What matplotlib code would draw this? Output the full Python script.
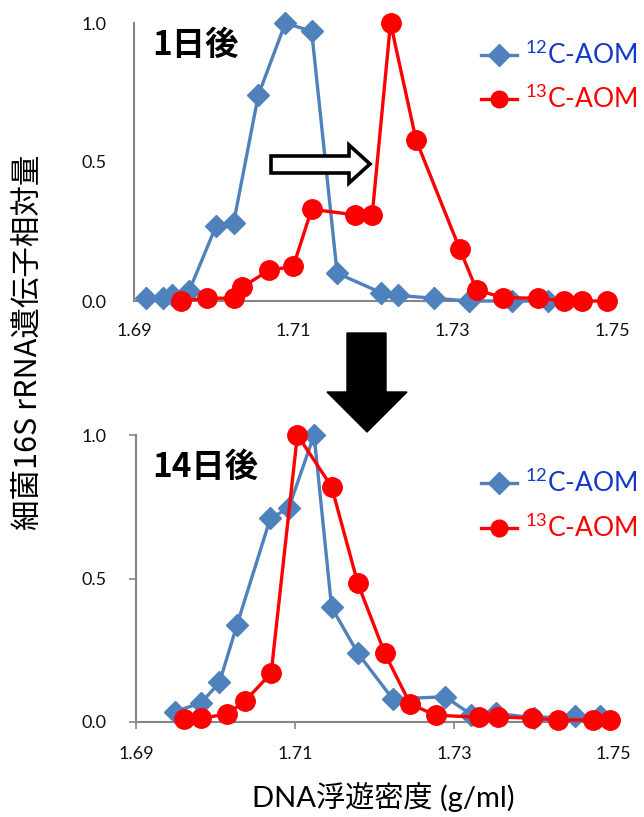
import matplotlib
matplotlib.use("Agg")
import matplotlib.pyplot as plt
from matplotlib.patches import Polygon
from matplotlib.lines import Line2D

plt.rcParams['font.family'] = ['Lato', 'Noto Sans CJK JP', 'DejaVu Sans']
plt.rcParams['mathtext.default'] = 'regular'

# ---------------- data ----------------
top_12_x = [1.6915, 1.6937, 1.6948, 1.6969, 1.7003, 1.7025, 1.7056, 1.7090, 1.7123, 1.7155,
            1.7210, 1.7232, 1.7276, 1.7320, 1.7374, 1.7420]
top_12_y = [0.01, 0.01, 0.02, 0.035, 0.27, 0.28, 0.74, 1.0, 0.97, 0.10,
            0.03, 0.02, 0.01, 0.0, 0.0, 0.0]
top_13_x = [1.6959, 1.6992, 1.7025, 1.7036, 1.7069, 1.7100, 1.7123, 1.7177, 1.7199, 1.7222,
            1.7254, 1.7309, 1.7330, 1.7363, 1.7407, 1.7440, 1.7462, 1.7494]
top_13_y = [0.0, 0.01, 0.01, 0.05, 0.11, 0.125, 0.33, 0.31, 0.31, 1.0,
            0.58, 0.186, 0.04, 0.012, 0.01, 0.0, 0.0, 0.0]

bot_12_x = [1.6949, 1.6982, 1.7005, 1.7027, 1.7069, 1.7092, 1.7124, 1.7146, 1.7179, 1.7223,
            1.7289, 1.7322, 1.7353, 1.7400, 1.7452, 1.7484]
bot_12_y = [0.036, 0.067, 0.138, 0.338, 0.71, 0.745, 1.0, 0.40, 0.24, 0.08,
            0.088, 0.025, 0.03, 0.015, 0.02, 0.02]
bot_13_x = [1.6960, 1.6982, 1.7015, 1.7037, 1.7070, 1.7103, 1.7146, 1.7179, 1.7213, 1.7245,
            1.7277, 1.7332, 1.7355, 1.7398, 1.7431, 1.7475, 1.7496]
bot_13_y = [0.01, 0.013, 0.028, 0.073, 0.17, 1.0, 0.82, 0.483, 0.239, 0.062,
            0.024, 0.016, 0.018, 0.013, 0.007, 0.007, 0.007]

x_ticks = [1.69, 1.71, 1.73, 1.75]
x_tick_labels = ['1.69', '1.71', '1.73', '1.75']
y_ticks = [0.0, 0.5, 1.0]
y_tick_labels = ['0.0', '0.5', '1.0']

series_labels = ['$^{12}$C-AOM', '$^{13}$C-AOM']
panel_titles = ['1日後', '14日後']
x_label = 'DNA浮遊密度 (g/ml)'
y_label = '細菌16S rRNA遺伝子相対量'

# ---------------- style ----------------
W, H = 644, 817
BLUE = '#4f81bd'
RED = '#ff0000'
BLUE_TXT = '#1438c8'
AXIS_GRAY = '#868686'

fig = plt.figure(figsize=(W / 100, H / 100), dpi=100)


def fx(px):
    return px / W


def fy(py):
    return 1 - py / H


def make_ax(left, right, top, bottom, xs12, ys12, xs13, ys13, ticks_on, title, title_xy, leg_y):
    ax = fig.add_axes([fx(left), fy(bottom), fx(right) - fx(left), fy(top) - fy(bottom)])
    ax.plot(xs12, ys12, color=BLUE, lw=2.4, marker='D', ms=11.5, mec=BLUE, mfc=BLUE,
            clip_on=False, zorder=3)
    ax.plot(xs13, ys13, color=RED, lw=2.4, marker='o', ms=14, mec=RED, mfc=RED,
            clip_on=False, zorder=4)
    ax.set_xlim(1.69, 1.75)
    ax.set_ylim(0, 1)
    ax.set_xticks(x_ticks)
    ax.set_xticklabels(x_tick_labels)
    ax.set_yticks(y_ticks)
    ax.set_yticklabels(y_tick_labels)
    for s in ['top', 'right']:
        ax.spines[s].set_visible(False)
    for s in ['left', 'bottom']:
        ax.spines[s].set_color(AXIS_GRAY)
        ax.spines[s].set_linewidth(1.5)
    tl = 5 if ticks_on else 0
    ax.tick_params(axis='both', direction='out', length=tl, width=1.2, color=AXIS_GRAY,
                   labelsize=13, labelcolor='#111111')
    ax.tick_params(axis='x', pad=16 - tl * 0.7)
    ax.tick_params(axis='y', pad=20 - tl * 0.7)
    ax.patch.set_alpha(0)
    # panel title
    fig.text(fx(title_xy[0]), fy(title_xy[1]), title, fontsize=24, fontweight='bold',
             family=['Noto Sans CJK JP'], ha='left', va='center')
    # legend
    for i, (col, mk, ms, tcol) in enumerate([(BLUE, 'D', 11, BLUE_TXT), (RED, 'o', 12, RED)]):
        yy = leg_y[i]
        fig.add_artist(Line2D([fx(481), fx(517)], [fy(yy), fy(yy)], color=col, lw=2.4,
                              transform=fig.transFigure))
        fig.add_artist(Line2D([fx(499)], [fy(yy)], color=col, marker=mk, ms=ms,
                              mfc=col, mec=col, transform=fig.transFigure))
        fig.text(fx(525), fy(yy), series_labels[i], fontsize=19, color=tcol,
                 ha='left', va='center')
    return ax


ax1 = make_ax(134, 612, 23, 301, top_12_x, top_12_y, top_13_x, top_13_y, False,
              panel_titles[0], (152, 45), (55, 99))
ax2 = make_ax(136, 613, 435, 722, bot_12_x, bot_12_y, bot_13_x, bot_13_y, True,
              panel_titles[1], (152, 467), (483, 528))

# open arrow (top panel)
open_arrow = [(271, 156), (349, 156), (349, 145), (370, 164), (349, 183), (349, 173), (271, 173)]
fig.add_artist(Polygon([(fx(a), fy(b)) for a, b in open_arrow], closed=True,
                       facecolor='white', edgecolor='black', lw=2.6,
                       transform=fig.transFigure, zorder=10))

# big down arrow
down_arrow = [(347, 333), (386, 333), (386, 392), (407, 392), (367, 432), (327, 392), (347, 392)]
fig.add_artist(Polygon([(fx(a), fy(b)) for a, b in down_arrow], closed=True,
                       facecolor='black', edgecolor='black', lw=1,
                       transform=fig.transFigure, zorder=10))

# axis labels
fig.text(fx(28), fy(342), y_label, rotation=90, fontsize=22, ha='center', va='center',
         family=['Noto Sans CJK JP'])
fig.text(fx(383), fy(797), x_label, fontsize=21, ha='center', va='center',
         family=['Lato', 'Noto Sans CJK JP'])

fig.savefig('out.png', dpi=100)
